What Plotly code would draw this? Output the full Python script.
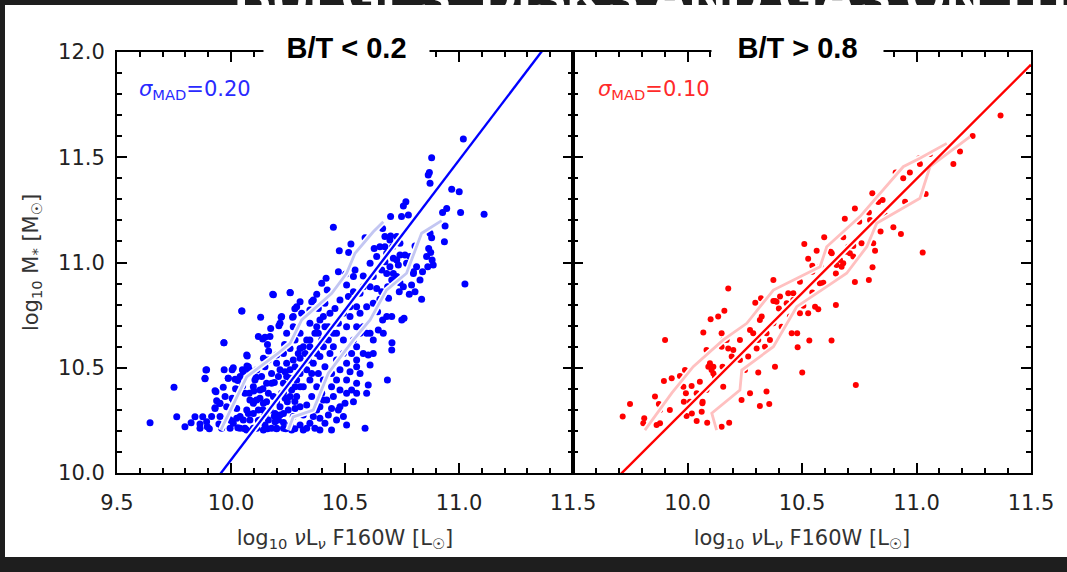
import plotly.graph_objects as go

# ---------------- data ----------------
# B/T < 0.2 sample: log10 nuLnu F160W  vs  log10 M*
low_x = [9.645, 9.75, 9.762, 9.798, 9.825, 9.842, 9.864, 9.876, 9.89, 9.886, 9.896, 9.905, 9.93, 9.937, 9.95, 9.93,
         9.969, 9.947, 9.988, 9.97, 10.005, 10.005, 10.02, 10.03, 10.047, 10.05, 10.071, 10.07, 10.08, 10.12, 10.13,
         10.16, 10.165, 10.186, 10.26, 10.22, 10.21, 10.235, 10.28, 10.27, 10.11, 10.10, 10.10, 10.14, 10.14, 10.19,
         10.19, 10.23, 10.23, 10.26, 10.28, 10.28, 10.10, 10.06, 10.03, 10.00, 10.12, 10.16, 10.20, 10.24,
         11.019, 10.88, 10.87, 10.865, 10.873, 10.968, 11.001, 10.946, 10.928, 11.007, 11.11, 10.756, 10.767, 10.748,
         10.778, 10.70, 10.939, 10.873, 10.88, 10.936, 10.807, 10.867, 10.876, 10.858, 10.882, 10.887, 10.863, 10.84,
         11.026, 10.80, 10.77, 10.741, 10.727, 10.734, 10.763, 10.709, 10.697, 10.675, 10.653, 10.665, 10.675, 10.70,
         10.727, 10.741, 10.588, 10.449, 10.526, 10.516, 10.475, 10.61, 10.628, 10.683, 10.712, 10.705, 10.741,
         10.792, 10.738, 10.782, 10.836, 10.759, 10.749, 10.705, 10.683, 10.665, 10.643, 10.624, 10.653, 10.691,
         10.661, 10.687, 10.639, 10.61, 10.624, 10.58, 10.544, 10.537, 10.507, 10.503, 10.471, 10.417, 10.398,
         10.422, 10.376, 10.354, 10.303, 10.288, 10.259, 10.183, 10.222, 10.273, 10.215, 10.174, 10.149, 10.139,
         10.171, 10.048, 9.969, 10.069, 10.01, 10.054, 10.076, 9.893, 9.886, 9.934, 9.966, 9.988, 10.018, 9.974,
         9.93, 9.893, 9.864, 10.025, 10.051, 10.08, 10.105, 10.134, 10.142, 10.164, 10.20, 10.23, 10.259, 10.244,
         10.215, 10.178, 10.156, 10.127, 10.113, 10.098, 10.083, 10.061, 10.113, 10.149, 10.178, 10.208, 10.23,
         10.247, 10.222, 10.20, 10.171, 10.142, 10.266, 10.288, 10.303, 10.281, 10.303, 10.325, 10.346, 10.332,
         10.368, 10.376, 10.346, 10.405, 10.434, 10.456, 10.412, 10.478, 10.515, 10.522, 10.493, 10.471, 10.449,
         10.427, 10.405, 10.39, 10.361, 10.332, 10.346, 10.317, 10.288, 10.303, 10.273, 10.259, 10.303, 10.346,
         10.361, 10.332, 10.368, 10.39, 10.412, 10.441, 10.42, 10.39, 10.398, 10.441, 10.463, 10.441, 10.478,
         10.507, 10.463, 10.493, 10.529, 10.551, 10.537, 10.566, 10.595, 10.58, 10.551, 10.61, 10.624, 10.602,
         10.61, 10.602, 10.595, 10.588, 10.686, 10.705, 10.706, 10.551, 10.529, 10.507, 10.50, 10.471, 10.493,
         10.537, 10.551, 10.566, 10.551, 10.478, 10.427, 10.376, 10.317, 10.20, 10.23, 10.266, 10.317, 10.127,
         10.098, 10.069, 10.04, 10.01, 9.996, 9.959, 9.952, 10.01, 10.032, 10.098, 10.164, 10.178, 10.208, 10.244,
         10.259, 10.20, 10.281, 10.303, 10.244, 10.273, 10.31, 10.346, 10.383, 10.361, 10.39, 10.427, 10.463,
         10.493, 10.507, 10.522, 10.551, 10.566, 10.595, 10.566, 10.537, 10.58, 10.661, 10.697, 10.675, 10.639,
         10.683, 10.712, 10.785, 10.814, 10.829, 10.807, 10.756, 10.727, 10.80,
         10.054, 10.076, 10.12, 10.149, 10.156, 10.186, 10.127, 10.083, 10.061, 10.04, 10.113, 10.149, 10.23,
         10.251, 10.215, 10.193, 10.281, 10.332, 10.354, 10.376, 10.405, 10.383, 10.412, 10.434, 10.449, 10.368,
         10.339, 10.303, 10.317, 10.295,
         10.069, 10.098, 10.142, 10.164, 10.193, 10.215, 10.237, 10.259, 10.281, 10.237, 10.273, 10.303, 10.346,
         10.383, 10.412, 10.398, 10.376, 10.354, 10.405, 10.449, 10.478, 10.507, 10.522, 10.551, 10.58, 10.624,
         10.646, 10.668, 10.463, 10.507, 10.39, 10.441, 10.04, 10.025, 9.988, 9.981, 9.952, 9.915]
low_y = [10.239, 10.407, 10.267, 10.22, 10.239, 10.267, 10.233, 10.267, 10.489, 10.448, 10.22, 10.21, 10.391, 10.343,
         10.33, 10.31, 10.619, 10.233, 10.45, 10.49, 10.49, 10.355, 10.40, 10.44, 10.77, 10.49, 10.556, 10.508, 10.49,
         10.648, 10.74, 10.61, 10.58, 10.847, 10.856, 10.74, 10.70, 10.61, 10.78, 10.74, 10.455, 10.39, 10.34, 10.40,
         10.30, 10.43, 10.27, 10.38, 10.24, 10.45, 10.34, 10.21, 10.21, 10.21, 10.215, 10.25, 10.25, 10.21, 10.21,
         10.21,
         11.587, 11.498, 11.427, 11.416, 11.376, 11.348, 11.336, 11.257, 11.238, 11.237, 11.229, 11.268, 11.289,
         11.218, 11.226, 11.218, 11.173, 11.139, 11.118, 11.099, 11.078, 11.067, 11.047, 11.028, 11.012, 10.988,
         10.98, 10.956, 10.898, 10.956, 10.996, 11.036, 11.012, 10.988, 11.036, 11.075, 11.107, 11.075, 11.075,
         11.162, 11.123, 11.126, 11.123, 11.091, 11.118, 11.167, 11.088, 11.048, 11.056, 10.996, 11.067, 10.948,
         10.948, 10.917, 10.904, 10.893, 10.861, 10.849, 10.825, 10.735, 10.727, 10.743, 10.743, 10.727, 10.766,
         10.806, 10.825, 10.83, 10.861, 10.885, 10.877, 10.885, 10.933, 10.936, 10.964, 10.933, 10.893, 10.945,
         10.956, 10.925, 10.901, 10.869, 10.849, 10.814, 10.814, 10.79, 10.857, 10.849, 10.743, 10.743, 10.711,
         10.687, 10.645, 10.637, 10.648, 10.77, 10.619, 10.56, 10.50, 10.481, 10.505, 10.49, 10.45, 10.386, 10.407,
         10.45, 10.445, 10.363, 10.307, 10.244, 10.212, 10.307, 10.413, 10.379, 10.442, 10.458, 10.545, 10.537,
         10.56, 10.568, 10.592, 10.521, 10.49, 10.473, 10.426, 10.394, 10.347, 10.283, 10.252, 10.212, 10.212,
         10.228, 10.212, 10.252, 10.283, 10.339, 10.379, 10.339, 10.299, 10.331, 10.394, 10.442, 10.41, 10.505,
         10.545, 10.568, 10.60, 10.632, 10.664, 10.695, 10.711, 10.743, 10.759, 10.782, 10.806, 10.822, 10.838,
         10.79, 10.759, 10.711, 10.664, 10.632, 10.60, 10.553, 10.521, 10.49, 10.442, 10.41, 10.363, 10.315,
         10.268, 10.228, 10.228, 10.236, 10.268, 10.212, 10.212, 10.26, 10.236, 10.307, 10.347, 10.315, 10.379,
         10.41, 10.442, 10.473, 10.49, 10.521, 10.537, 10.568, 10.568, 10.60, 10.632, 10.664, 10.664, 10.695,
         10.695, 10.664, 10.568, 10.56, 10.513, 10.418, 10.379, 10.212, 10.442, 10.584, 10.619, 10.426, 10.394,
         10.379, 10.331, 10.299, 10.268, 10.339, 10.379, 10.473, 10.537, 10.315, 10.275, 10.299, 10.275, 10.212,
         10.212, 10.204, 10.204, 10.252, 10.331, 10.299, 10.268, 10.236, 10.212, 10.212, 10.268, 10.347, 10.394,
         10.41, 10.379, 10.426, 10.458, 10.458, 10.49, 10.521, 10.632, 10.664, 10.664, 10.695, 10.759, 10.774,
         10.782, 10.822, 10.727, 10.695, 10.664, 10.632, 10.695, 10.743, 10.79, 10.759, 10.79, 10.854, 10.861,
         10.885, 10.964, 10.98, 11.004, 11.028, 11.044, 11.02, 11.028, 10.98, 10.917, 10.861, 10.885, 10.933,
         10.948,
         10.252, 10.283, 10.299, 10.275, 10.339, 10.363, 10.355, 10.347, 10.379, 10.458, 10.489, 10.505, 10.426,
         10.299, 10.275, 10.244, 10.307, 10.323, 10.363, 10.41, 10.442, 10.473, 10.505, 10.568, 10.60, 10.584,
         10.537, 10.473, 10.60, 10.568,
         10.204, 10.212, 10.204, 10.252, 10.283, 10.315, 10.355, 10.363, 10.41, 10.481, 10.537, 10.592, 10.632,
         10.664, 10.695, 10.632, 10.568, 10.473, 10.347, 10.363, 10.394, 10.442, 10.481, 10.505, 10.568, 10.632,
         10.679, 10.664, 10.252, 10.228, 10.204, 10.204, 10.212, 10.26, 10.26, 10.315, 10.331, 10.268]

# B/T > 0.8 sample
high_x = [11.367, 11.161, 11.059, 11.015, 10.971, 10.909, 10.942, 11.04, 11.027, 10.95, 10.899, 10.932, 10.852,
          10.833, 10.807, 10.843, 10.731, 10.792, 10.75, 10.687, 10.811, 10.819, 10.808, 10.792, 10.731, 10.724,
          10.709, 10.68, 10.673, 10.666, 10.648, 10.63, 10.597, 10.625, 10.593, 10.564, 10.527, 10.51, 10.545,
          10.578, 10.545, 10.648, 10.571, 10.557, 10.527, 10.506, 10.491, 10.462, 10.44, 10.404, 10.382, 10.375,
          10.399, 10.447, 10.455, 10.479, 10.481, 10.532, 10.629, 10.501, 10.735, 10.411, 10.375, 10.345, 10.324,
          10.309, 10.302, 10.338, 10.36, 10.382, 10.309, 10.345, 10.357, 10.316, 10.273, 10.236, 10.251, 10.265,
          10.229, 10.2, 10.178, 10.171, 10.149, 10.156, 10.193, 10.156, 10.153, 10.12, 10.149, 10.134, 10.161,
          10.101, 10.069, 10.083, 10.098, 10.105, 10.091, 10.113, 10.054, 10.083, 10.04, 10.018, 10.011, 9.993,
          9.984, 9.982, 9.989, 9.967, 9.931, 9.902, 9.897, 9.923, 9.88, 9.875, 9.858, 9.807, 9.811, 9.865, 9.88,
          9.749, 9.717, 9.996, 10.04, 10.062, 10.065, 10.086, 10.149, 10.182, 10.066, 10.019, 10.113, 10.178,
          10.229, 10.273, 10.287, 10.316, 10.296, 10.321, 10.375, 10.389, 10.433, 10.462, 10.491, 10.545, 10.581,
          10.651, 10.68, 10.695, 10.702, 10.724, 10.76, 10.797, 10.862, 11.012, 11.19, 11.245]
high_y = [11.698, 11.468, 11.515, 11.468, 11.428, 11.428, 11.40, 11.325, 11.047, 11.289, 11.167, 11.135, 11.297,
          11.287, 11.329, 11.147, 11.257, 11.237, 11.194, 11.208, 11.091, 11.056, 10.977, 10.917, 10.907, 11.078,
          11.044, 11.12, 10.98, 11.012, 10.948, 11.044, 11.12, 11.051, 10.904, 11.056, 11.018, 11.088, 10.956,
          10.901, 10.858, 10.798, 10.778, 10.79, 10.759, 10.795, 10.759, 10.822, 10.854, 10.838, 10.817, 10.917,
          10.782, 10.743, 10.664, 10.664, 10.597, 10.629, 10.629, 10.478, 10.418, 10.695, 10.711, 10.664, 10.743,
          10.632, 10.592, 10.60, 10.632, 10.505, 10.477, 10.387, 10.328, 10.318, 10.379, 10.347, 10.489, 10.553,
          10.537, 10.584, 10.877, 10.632, 10.664, 10.632, 10.553, 10.41, 10.505, 10.458, 10.60, 10.743, 10.771,
          10.73, 10.668, 10.584, 10.521, 10.489, 10.505, 10.473, 10.434, 10.394, 10.379, 10.413, 10.339, 10.379,
          10.339, 10.41, 10.489, 10.461, 10.45, 10.632, 10.437, 10.299, 10.299, 10.328, 10.363, 10.236, 10.26,
          10.228, 10.236, 10.328, 10.268, 10.271, 10.247, 10.291, 10.331, 10.239, 10.22, 10.239, 10.339, 10.283,
          10.505, 10.592, 10.632, 10.679, 10.664, 10.727, 10.809, 10.83, 10.817, 10.814, 10.806, 10.854, 10.909,
          10.985, 10.985, 10.988, 10.996, 11.051, 11.075, 11.028, 11.091, 11.202, 11.226, 11.495, 11.527, 11.601]

# best-fit relations (two end points each, clipped by the axes)
fit_low_x = [9.90, 11.50]
fit_low_y = [9.920, 12.198]
fit_high_x = [9.60, 11.50]
fit_high_y = [9.877, 11.940]

# running 16th / 84th percentile envelopes
low_up_x = [9.955, 10.069, 10.207, 10.259, 10.310, 10.442, 10.507, 10.544, 10.624, 10.668]
low_up_y = [10.204, 10.457, 10.569, 10.616, 10.727, 10.854, 10.949, 11.044, 11.146, 11.194]
low_dn_x = [10.251, 10.273, 10.361, 10.427, 10.537, 10.610, 10.682, 10.770, 10.836, 10.924]
low_dn_y = [10.204, 10.267, 10.299, 10.474, 10.632, 10.727, 10.869, 10.949, 11.139, 11.199]
high_up_x = [9.814, 9.931, 10.025, 10.156, 10.259, 10.375, 10.579, 10.608, 10.753, 10.855, 10.942, 11.015, 11.132]
high_up_y = [10.204, 10.379, 10.505, 10.632, 10.711, 10.869, 10.980, 11.075, 11.218, 11.344, 11.455, 11.495, 11.566]
high_dn_x = [10.127, 10.106, 10.229, 10.237, 10.375, 10.477, 10.608, 10.695, 10.783, 10.826, 11.015, 11.059, 11.234]
high_dn_y = [10.204, 10.284, 10.394, 10.489, 10.600, 10.790, 10.885, 10.949, 11.075, 11.186, 11.305, 11.455, 11.598]

panel_titles = ["B/T < 0.2", "B/T > 0.8"]
sigma_labels = ["0.20", "0.10"]
x_ticks = [9.5, 10.0, 10.5, 11.0, 11.5]
y_ticks = [10.0, 10.5, 11.0, 11.5, 12.0]

# ---------------- figure ----------------
W, H = 1067, 572
L, R, T, B = 117, 36, 52, 99
pw, ph = W - L - R, H - T - B
def px(x):  # pixel -> paper
    return (x - L) / pw
def py(y):
    return (H - B - y) / ph

split = 456 / pw
fig = go.Figure()

BLUE, RED = "#0000ff", "#ff0000"
LBLUE, LRED = "#c3c6f2", "#ffc0c0"

def add_panel(xs, ys, col, lcol, fx, fy, ux, uy, dx, dy, xa, ya, msize):
    fig.add_trace(go.Scatter(x=xs, y=ys, mode="markers", xaxis=xa, yaxis=ya,
                             marker=dict(size=msize, color=col, line=dict(width=0)), showlegend=False))
    for (lx, ly) in [(ux, uy), (dx, dy)]:
        fig.add_trace(go.Scatter(x=lx, y=ly, mode="lines", xaxis=xa, yaxis=ya,
                                 line=dict(color="white", width=6), showlegend=False))
    fig.add_trace(go.Scatter(x=fx, y=fy, mode="lines", xaxis=xa, yaxis=ya,
                             line=dict(color="white", width=6), showlegend=False))
    for (lx, ly) in [(ux, uy), (dx, dy)]:
        fig.add_trace(go.Scatter(x=lx, y=ly, mode="lines", xaxis=xa, yaxis=ya,
                                 line=dict(color=lcol, width=2.8), showlegend=False))
    fig.add_trace(go.Scatter(x=fx, y=fy, mode="lines", xaxis=xa, yaxis=ya,
                             line=dict(color=col, width=2.4), showlegend=False))

add_panel(low_x, low_y, BLUE, LBLUE, fit_low_x, fit_low_y, low_up_x, low_up_y, low_dn_x, low_dn_y, "x", "y", 7)
add_panel(high_x, high_y, RED, LRED, fit_high_x, fit_high_y, high_up_x, high_up_y, high_dn_x, high_dn_y, "x2", "y2", 6)

tickfont = dict(family="DejaVu Sans", size=21, color="#222222")
common_x = dict(range=[9.5, 11.5], tickvals=x_ticks, ticks="inside", ticklen=10, tickwidth=2,
                tickcolor="black", showline=True, linewidth=2, linecolor="black", mirror="ticks",
                showgrid=False, zeroline=False, tickfont=tickfont, ticklabelstandoff=10,
                minor=dict(dtick=0.1, ticks="inside", ticklen=5, tickwidth=1.5, tickcolor="black", showgrid=False))
common_y = dict(range=[10.0, 12.0], tickvals=y_ticks, ticks="inside", ticklen=10, tickwidth=2,
                tickcolor="black", showline=True, linewidth=2, linecolor="black", mirror="ticks",
                showgrid=False, zeroline=False, tickfont=tickfont,
                minor=dict(dtick=0.1, ticks="inside", ticklen=5, tickwidth=1.5, tickcolor="black", showgrid=False))

title_font = dict(family="DejaVu Sans", size=21, color="#333333")
xtitle = "log<sub>10</sub> <i>ν</i>L<sub><i>ν</i></sub> F160W [L<sub>☉</sub>]"

fig.update_layout(
    width=W, height=H, margin=dict(l=L, r=R, t=T, b=B, autoexpand=False),
    paper_bgcolor="#1e1e1e", plot_bgcolor="rgba(0,0,0,0)",
    xaxis=dict(domain=[0, split], anchor="y", ticktext=["9.5", "10.0", "10.5", "11.0", "11.5"],
               title=dict(text=xtitle, font=title_font, standoff=16), **common_x),
    yaxis=dict(domain=[0, 1], anchor="x", ticktext=["10.0", "10.5", "11.0", "11.5", "12.0"],
               ticklabelstandoff=6,
               title=dict(text="log<sub>10</sub> M<sub>*</sub> [M<sub>☉</sub>]", font=title_font, standoff=14),
               **common_y),
    xaxis2=dict(domain=[split, 1], anchor="y2", ticktext=["", "10.0", "10.5", "11.0", "11.5"],
                title=dict(text=xtitle, font=title_font, standoff=16), **common_x),
    yaxis2=dict(domain=[0, 1], anchor="x2", showticklabels=False, **common_y),
)

# slide background (white sheet on dark frame)
fig.add_shape(type="rect", xref="paper", yref="paper", layer="below",
              x0=px(5), x1=px(1075), y0=py(557), y1=py(5),
              fillcolor="white", line=dict(width=0))

# clipped slide heading at the very top (white text; only visible over the dark strip)
fig.add_annotation(xref="paper", yref="paper", x=px(232), y=py(28), xanchor="left", yanchor="bottom",
                   text="<b>BULGES, DISKS AND GAS ON THE</b>", showarrow=False,
                   font=dict(family="Liberation Sans", size=52, color="#ffffff"))

# panel titles with white boxes over the top axis
for cx, wbox, t in [(346.5, 165, panel_titles[0]), (797, 171, panel_titles[1])]:
    fig.add_annotation(xref="paper", yref="paper", x=px(cx), y=py(48), xanchor="center", yanchor="middle",
                       text="<b>" + t + "</b>", showarrow=False, width=wbox, height=34,
                       bgcolor="white", borderpad=0,
                       font=dict(family="Liberation Sans Narrow, Liberation Sans, Arial, sans-serif",
                                 size=29, color="black"))

# sigma_MAD labels
for xpx, col, s in [(137, "#2a2aff", sigma_labels[0]), (596, "#ff2a2a", sigma_labels[1])]:
    fig.add_annotation(xref="paper", yref="paper", x=px(xpx), y=py(90), xanchor="left", yanchor="middle",
                       text="<i>σ</i><sub>MAD</sub>=" + s, showarrow=False,
                       font=dict(family="DejaVu Sans", size=21, color=col))

fig.write_html("out.html", config={"displayModeBar": False},
               post_script="document.body.style.margin='0';document.body.style.overflow='hidden';")
